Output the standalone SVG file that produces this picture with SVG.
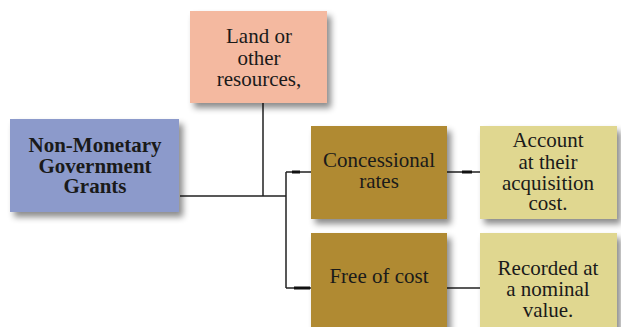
<svg xmlns="http://www.w3.org/2000/svg" width="621" height="327" viewBox="0 0 621 327">
<defs>
<filter id="sh" x="-10%" y="-10%" width="130%" height="140%">
<feDropShadow dx="4" dy="5" stdDeviation="3" flood-color="#000" flood-opacity="0.45"/>
</filter>
</defs>
<style>
.t{font-family:"Liberation Serif","DejaVu Serif",serif;font-size:21px;fill:#1a1a1a;text-anchor:middle}
.b{font-weight:bold}
.ln{stroke:#222;stroke-width:1.5;fill:none}
.tk{stroke:#111;stroke-width:3;fill:none}
</style>
<rect width="621" height="327" fill="#fff"/>
<g id="connectors">
<path class="ln" d="M180 196H286M263 103V196M286 172V288M286 172H311M286 288H311M447 172H480M447 288H480"/>
<path class="tk" d="M292 172H300M294 288H310M462 172H472"/>
</g>
<g id="land">
<rect x="190" y="11" width="137" height="92" fill="#F4B9A0" filter="url(#sh)"/>
<text class="t" x="259" y="43">Land or</text>
<text class="t" x="259" y="65">other</text>
<text class="t" x="259" y="86">resources,</text>
</g>
<g id="nonmonetary">
<rect x="10" y="119" width="169" height="93" fill="#8C9ACB" filter="url(#sh)"/>
<text class="t b" x="95" y="152">Non-Monetary</text>
<text class="t b" x="95" y="173">Government</text>
<text class="t b" x="95" y="193">Grants</text>
</g>
<g id="concessional">
<rect x="311" y="126" width="136" height="93" fill="#B08A31" filter="url(#sh)"/>
<text class="t" x="379" y="167">Concessional</text>
<text class="t" x="379" y="188">rates</text>
</g>
<g id="account">
<rect x="480" y="126" width="137" height="93" fill="#E0D790" filter="url(#sh)"/>
<text class="t" x="548" y="147">Account</text>
<text class="t" x="548" y="169">at their</text>
<text class="t" x="548" y="190">acquisition</text>
<text class="t" x="548" y="210">cost.</text>
</g>
<g id="free">
<rect x="311" y="233" width="136" height="100" fill="#B08A31" filter="url(#sh)"/>
<text class="t" x="379" y="283">Free of cost</text>
</g>
<g id="recorded">
<rect x="480" y="233" width="137" height="100" fill="#E0D790" filter="url(#sh)"/>
<text class="t" x="548" y="275">Recorded at</text>
<text class="t" x="548" y="296">a nominal</text>
<text class="t" x="548" y="317">value.</text>
</g>
</svg>
